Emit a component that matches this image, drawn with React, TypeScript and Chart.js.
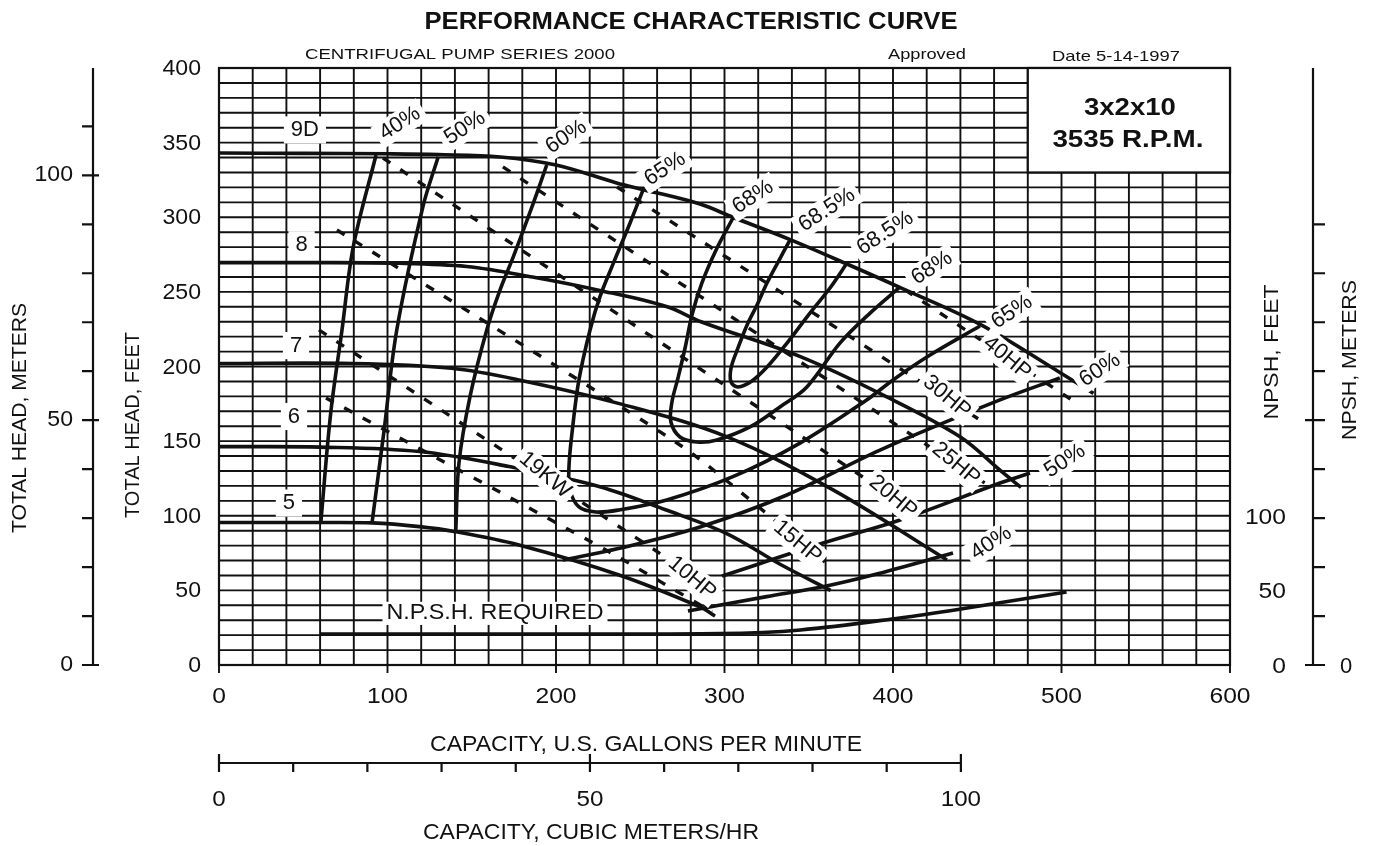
import React, { useEffect, useRef } from "react";
import { Chart, registerables } from "chart.js";

Chart.register(...registerables);

type Pt = [number, number];

// ---------------- axis ticks / labels ----------------
const gpmTickLabels = [0, 100, 200, 300, 400, 500, 600];
const feetTickLabels = [0, 50, 100, 150, 200, 250, 300, 350, 400];
const npshFeetTickLabels = [0, 50, 100];
const headMeterTicks = [0, 10, 20, 30, 40, 50, 60, 70, 80, 90, 100, 110];
const headMeterLabels = [0, 50, 100];
const npshMeterTicks = [0, 10, 20, 30, 40, 50, 60, 70, 80, 90];
const npshMeterLabels = [0];
const cubicTicks = [0, 10, 20, 30, 40, 50, 60, 70, 80, 90, 100];
const cubicLabels = [0, 50, 100];

// ---------------- head-capacity curves (gpm, ft) ----------------
const head9D: Pt[] = [[0, 343], [50, 342.8], [100, 342.5], [130, 342], [167, 340.4], [200, 335], [236, 323], [252, 318.5], [285, 309], [305, 300], [339, 285], [373, 268.5], [404, 253], [452, 228], [499, 196], [519, 182]];
const head8: Pt[] = [[0, 269.6], [50, 269.6], [107, 269.2], [147, 267], [186, 260], [226, 251], [266, 240], [286, 230], [345, 206.6], [396, 179.8], [440, 152.8], [464, 130], [476, 119]];
const head7: Pt[] = [[0, 202], [79, 202], [138, 198.8], [178, 191], [237, 175.3], [301.5, 152.8], [364.4, 117.3], [432, 70.4]];
const head6: Pt[] = [[0, 146.3], [60, 146], [119, 143], [172, 133], [226, 119.5], [265, 104], [301, 88.2], [333, 67.5], [363, 50]];
const head5: Pt[] = [[0, 95.5], [59, 95.5], [91, 95.2], [119, 92.7], [140.5, 89.3], [178, 80.4], [237.4, 60.3], [285.5, 38.9], [294.4, 32.8]];
const npshRequired: Pt[] = [[60, 20.8], [180, 20.8], [297, 21], [345, 23.5], [404, 31.5], [444, 38.2], [503, 48.9]];

// ---------------- efficiency contours (gpm, ft) ----------------
const eff40Left: Pt[] = [[93.2, 341.7], [79.7, 280.3], [73, 224.5], [66.3, 168.8], [60.4, 95.1]];
const eff50Left: Pt[] = [[130.1, 340.6], [121, 307], [105.5, 224.5], [98, 157.5], [90.8, 95.1]];
const eff60Left: Pt[] = [[194.5, 335], [186.5, 309.3], [174.7, 273.6], [166.8, 251.3], [158.9, 224.5], [149, 180], [142.4, 135.3], [140.5, 89.3]];
const eff65: Pt[] = [[251.8, 318.7], [243.9, 296], [234, 269.1], [226.1, 246.8], [220.2, 224.5], [213.6, 191], [209.7, 157.5], [207.7, 132.9], [208.3, 117.3], [213.6, 105.9], [223.7, 102.5], [237.4, 103.9], [265.7, 110.6], [305, 126.2], [344.8, 148.7], [384.4, 177.6], [400, 191], [422, 207.7], [451.6, 227.1]];
const eff68: Pt[] = [[305, 299.5], [295, 278.1], [286.6, 256], [280.7, 234.5], [276.6, 212.4], [272.4, 192.3], [268.8, 176.2], [268.2, 162.8], [273.6, 152.8], [283.7, 149.4], [295.5, 150.8], [315.1, 159.5], [332.9, 172.9], [348.9, 186.3], [368.5, 215.7], [386.4, 235.8], [404.2, 253.3]];
const eff685: Pt[] = [[338.9, 284.8], [331.8, 270], [325.2, 255.9], [319.3, 241.2], [313.4, 227.8], [308, 212.4], [303.9, 199], [303.9, 189.6], [308, 186.3], [316.3, 190.3], [325.8, 200.3], [337.1, 215.7], [350.7, 235.8], [362.6, 252.6], [372.7, 269.3]];
const eff60Right: Pt[] = [[204, 70.4], [237, 78], [285.5, 92.5], [337, 113.9], [392.3, 144], [463.5, 177.6], [499, 192.3]];
const eff50Right: Pt[] = [[298.5, 59.6], [358.5, 81.7], [404.2, 97.2], [463.5, 121.9], [481.3, 128.6]];
const eff40Right: Pt[] = [[278.3, 36.2], [325, 45.8], [358.5, 52.5], [388, 60.3], [435.6, 75]];

// ---------------- horsepower lines (gpm, ft) ----------------
const hp10: Pt[] = [[59.3, 224.5], [297.6, 48.2]];
const hpLower: Pt[] = [[63.5, 178.9], [229.7, 77], [292.6, 35.5]];
const hp15: Pt[] = [[70, 291.5], [275.4, 146], [359.6, 69]];
const hp20: Pt[] = [[97.3, 339.7], [416, 100.5]];
const hp25: Pt[] = [[168.5, 333.7], [454.6, 121.9]];
const hp30: Pt[] = [[236.2, 320.3], [451.6, 164.2]];
const hp40: Pt[] = [[407.1, 251.3], [508, 176.2]];

// ---------------- in-chart annotations (text, gpm, ft) ----------------
type Note = { text: string; gpm: number; ft: number };
const diameterNotes: Note[] = [
  { text: "9D", gpm: 51, ft: 358.5 },
  { text: "8", gpm: 49, ft: 281.6 },
  { text: "7", gpm: 45.7, ft: 214 },
  { text: "6", gpm: 44.5, ft: 166.5 },
  { text: "5", gpm: 41.5, ft: 108.5 },
];
const efficiencyNotes: Note[] = [
  { text: "40%", gpm: 107.4, ft: 362.8 },
  { text: "50%", gpm: 146, ft: 359.8 },
  { text: "60%", gpm: 206, ft: 353.8 },
  { text: "65%", gpm: 264.7, ft: 332.3 },
  { text: "68%", gpm: 316.9, ft: 313.6 },
  { text: "68.5%", gpm: 360.8, ft: 304.9 },
  { text: "68.5%", gpm: 395.3, ft: 289.4 },
  { text: "68%", gpm: 423.1, ft: 266 },
  { text: "65%", gpm: 470.6, ft: 236.5 },
  { text: "60%", gpm: 522.8, ft: 197.7 },
  { text: "50%", gpm: 502, ft: 136.7 },
  { text: "40%", gpm: 458.2, ft: 81.7 },
];
const powerNotes: Note[] = [
  { text: "19KW", gpm: 193.5, ft: 127.3 },
  { text: "10HP", gpm: 280.7, ft: 58.3 },
  { text: "15HP", gpm: 343.3, ft: 82.4 },
  { text: "20HP", gpm: 400, ft: 112.6 },
  { text: "25HP", gpm: 437.4, ft: 134.7 },
  { text: "30HP", gpm: 432, ft: 179.6 },
  { text: "40HP", gpm: 467.7, ft: 205.7 },
];
const npshNote: Note = { text: "N.P.S.H. REQUIRED", gpm: 163.8, ft: 34.6 };

const X_MIN = 0, X_MAX = 600, Y_MIN = 0, Y_MAX = 400;
const GRID_GPM = 20, GRID_FT = 10;
const BOX_GPM: [number, number] = [480, 600];
const BOX_FT: [number, number] = [330, 400];
const FT_PER_M = 3.28084;
const GPM_PER_M3H = 4.40287;

const INK = "#111";
const FONT = '"Liberation Sans", Arial, Helvetica, sans-serif';

type TxtOpts = { size: number; bold?: boolean; align?: CanvasTextAlign; rot?: number; width?: number; sx?: number; bg?: boolean; padX?: number; padY?: number };

function drawText(ctx: CanvasRenderingContext2D, s: string, x: number, y: number, o: TxtOpts) {
  ctx.save();
  ctx.translate(x, y);
  if (o.rot) ctx.rotate((o.rot * Math.PI) / 180);
  ctx.font = `${o.bold ? "bold " : ""}${o.size}px ${FONT}`;
  const w = ctx.measureText(s).width;
  const sx = o.width ? o.width / w : o.sx ?? 1;
  ctx.scale(sx, 1);
  const align = o.align || "center";
  ctx.textAlign = align;
  ctx.textBaseline = "middle";
  if (o.bg) {
    const px = (o.padX ?? 4) / sx;
    const py = o.padY ?? 3;
    const left = align === "left" ? 0 : align === "right" ? -w : -w / 2;
    const h = o.size * 0.78;
    ctx.fillStyle = "#fff";
    ctx.fillRect(left - px, -h / 2 - py, w + 2 * px, h + 2 * py);
  }
  ctx.fillStyle = INK;
  ctx.fillText(s, 0, 0);
  ctx.restore();
}

const pumpPlugin = {
  id: "pumpDecor",
  beforeDatasetsDraw(chart: any) {
    const ctx: CanvasRenderingContext2D = chart.ctx;
    const xs = chart.scales.x, ys = chart.scales.y;
    const X = (v: number) => xs.getPixelForValue(v);
    const Y = (v: number) => ys.getPixelForValue(v);
    ctx.save();
    ctx.strokeStyle = INK;
    ctx.lineWidth = 1.9;
    ctx.beginPath();
    for (let g = X_MIN; g <= X_MAX; g += GRID_GPM) {
      ctx.moveTo(X(g), Y(Y_MIN));
      ctx.lineTo(X(g), Y(Y_MAX));
    }
    for (let f = Y_MIN; f <= Y_MAX; f += GRID_FT) {
      ctx.moveTo(X(X_MIN), Y(f));
      ctx.lineTo(X(X_MAX), Y(f));
    }
    ctx.stroke();
    ctx.beginPath();
    for (const g of gpmTickLabels) {
      ctx.moveTo(X(g), Y(Y_MIN));
      ctx.lineTo(X(g), Y(Y_MIN) + 8);
    }
    ctx.stroke();
    ctx.lineWidth = 2.2;
    ctx.strokeRect(X(X_MIN), Y(Y_MAX), X(X_MAX) - X(X_MIN), Y(Y_MIN) - Y(Y_MAX));
    const bx = X(BOX_GPM[0]), by = Y(BOX_FT[1]);
    const bw = X(BOX_GPM[1]) - bx, bh = Y(BOX_FT[0]) - by;
    ctx.fillStyle = "#fff";
    ctx.fillRect(bx, by, bw, bh);
    ctx.strokeRect(bx, by, bw, bh);
    ctx.restore();
  },
  afterDatasetsDraw(chart: any) {
    const ctx: CanvasRenderingContext2D = chart.ctx;
    const xs = chart.scales.x, ys = chart.scales.y;
    const X = (v: number) => xs.getPixelForValue(v);
    const Y = (v: number) => ys.getPixelForValue(v);
    for (const n of diameterNotes) drawText(ctx, n.text, X(n.gpm), Y(n.ft), { size: 22, bg: true, padX: 7, padY: 5 });
    for (const n of efficiencyNotes) drawText(ctx, n.text, X(n.gpm), Y(n.ft), { size: 22, rot: -33, bg: true, padX: 5, padY: 4 });
    for (const n of powerNotes) drawText(ctx, n.text, X(n.gpm), Y(n.ft), { size: 22, rot: 40, bg: true, padX: 4, padY: 4 });
    drawText(ctx, npshNote.text, X(npshNote.gpm), Y(npshNote.ft), { size: 22, width: 217, bg: true, padX: 4, padY: 3 });
  },
  afterDraw(chart: any) {
    const ctx: CanvasRenderingContext2D = chart.ctx;
    const xs = chart.scales.x, ys = chart.scales.y;
    const X = (v: number) => xs.getPixelForValue(v);
    const Y = (v: number) => ys.getPixelForValue(v);
    const left = X(X_MIN), right = X(X_MAX), top = Y(Y_MAX), bottom = Y(Y_MIN);

    drawText(ctx, "PERFORMANCE CHARACTERISTIC CURVE", 691, 22, { size: 24, bold: true, width: 533 });
    drawText(ctx, "CENTRIFUGAL PUMP SERIES 2000", 460, 55, { size: 15, width: 310 });
    drawText(ctx, "Approved", 927, 55, { size: 15, width: 78 });
    drawText(ctx, "Date 5-14-1997", 1116, 57, { size: 15, width: 128 });
    const bcx = (X(BOX_GPM[0]) + X(BOX_GPM[1])) / 2;
    drawText(ctx, "3x2x10", bcx + 1, 108, { size: 24, bold: true, width: 92 });
    drawText(ctx, "3535 R.P.M.", bcx - 1, 140, { size: 24, bold: true, width: 151 });

    ctx.save();
    ctx.strokeStyle = INK;
    ctx.lineWidth = 2.2;

    for (const v of feetTickLabels) drawText(ctx, String(v), left - 18, Y(v) + 1, { size: 22, align: "right", sx: 1.05 });

    const mAxisX = 93;
    ctx.beginPath();
    ctx.moveTo(mAxisX, bottom);
    ctx.lineTo(mAxisX, top);
    for (const m of headMeterTicks) {
      const yy = Y(m * FT_PER_M);
      const long = headMeterLabels.includes(m);
      ctx.moveTo(mAxisX - 11, yy);
      ctx.lineTo(long ? mAxisX + 6 : mAxisX, yy);
    }
    ctx.stroke();
    for (const m of headMeterLabels) drawText(ctx, String(m), 73, Y(m * FT_PER_M), { size: 22, align: "right", sx: 1.05 });
    drawText(ctx, "TOTAL HEAD, METERS", 20, 418, { size: 21, rot: -90, width: 230 });
    drawText(ctx, "TOTAL HEAD, FEET", 133, 425, { size: 21, rot: -90, width: 186 });

    for (const v of npshFeetTickLabels) drawText(ctx, String(v), right + 56, Y(v) + 2, { size: 22, align: "right", sx: 1.12 });
    drawText(ctx, "NPSH, FEET", 1272, 352, { size: 21, rot: -90, width: 135 });

    const nAxisX = 1313;
    ctx.beginPath();
    ctx.moveTo(nAxisX, bottom);
    ctx.lineTo(nAxisX, top);
    for (const m of npshMeterTicks) {
      const yy = Y(m * FT_PER_M);
      const long = m === 0 || m === 50;
      ctx.moveTo(long ? nAxisX - 8 : nAxisX, yy);
      ctx.lineTo(nAxisX + 12, yy);
    }
    ctx.stroke();
    for (const m of npshMeterLabels) drawText(ctx, String(m), 1346, Y(m * FT_PER_M) + 2, { size: 22 });
    drawText(ctx, "NPSH, METERS", 1350, 360, { size: 21, rot: -90, width: 160 });

    for (const g of gpmTickLabels) drawText(ctx, String(g), X(g), 697, { size: 22, sx: 1.12 });
    drawText(ctx, "CAPACITY, U.S. GALLONS PER MINUTE", 646, 745, { size: 22, width: 432 });

    const cy = 763;
    ctx.beginPath();
    ctx.moveTo(X(0), cy);
    ctx.lineTo(X(cubicTicks[cubicTicks.length - 1] * GPM_PER_M3H), cy);
    for (const c of cubicTicks) {
      const xx = X(c * GPM_PER_M3H);
      const long = cubicLabels.includes(c);
      ctx.moveTo(xx, long ? cy - 9 : cy);
      ctx.lineTo(xx, cy + 9);
    }
    ctx.stroke();
    for (const c of cubicLabels) drawText(ctx, String(c), X(c * GPM_PER_M3H), 800, { size: 22, sx: 1.1 });
    drawText(ctx, "CAPACITY, CUBIC METERS/HR", 591, 833, { size: 22, width: 336 });
    ctx.restore();
  },
};

function solid(data: Pt[], width = 3.6, tension = 0.35) {
  return {
    data: data.map(([x, y]) => ({ x, y })),
    showLine: true,
    borderColor: INK,
    borderWidth: width,
    pointRadius: 0,
    tension,
    fill: false,
    clip: false as any,
  };
}
function dashed(data: Pt[]) {
  return { ...solid(data, 3.4, 0.2), borderDash: [9, 12] };
}

export default function App() {
  const ref = useRef<HTMLCanvasElement | null>(null);
  useEffect(() => {
    document.body.style.margin = "0";
    const canvas = ref.current!;
    const chart = new Chart(canvas, {
      type: "scatter",
      data: {
        datasets: [
          solid(head9D), solid(head8), solid(head7), solid(head6), solid(head5),
          solid(npshRequired),
          solid(eff40Left), solid(eff50Left), solid(eff60Left), solid(eff65),
          solid(eff68), solid(eff685),
          solid(eff60Right), solid(eff50Right), solid(eff40Right),
          dashed(hp10), dashed(hpLower), dashed(hp15), dashed(hp20), dashed(hp25), dashed(hp30), dashed(hp40),
        ] as any,
      },
      options: {
        animation: false,
        responsive: false,
        maintainAspectRatio: false,
        devicePixelRatio: 1,
        layout: { padding: { left: 219, right: 147, top: 68, bottom: 181 } },
        plugins: { legend: { display: false }, tooltip: { enabled: false } },
        events: [],
        scales: {
          x: { type: "linear", min: X_MIN, max: X_MAX, display: false },
          y: { type: "linear", min: Y_MIN, max: Y_MAX, display: false },
        },
      },
      plugins: [pumpPlugin as any],
    });
    return () => chart.destroy();
  }, []);
  return (
    <div style={{ width: 1377, height: 846, background: "#fff" }}>
      <canvas ref={ref} width={1377} height={846} style={{ display: "block" }} />
    </div>
  );
}
